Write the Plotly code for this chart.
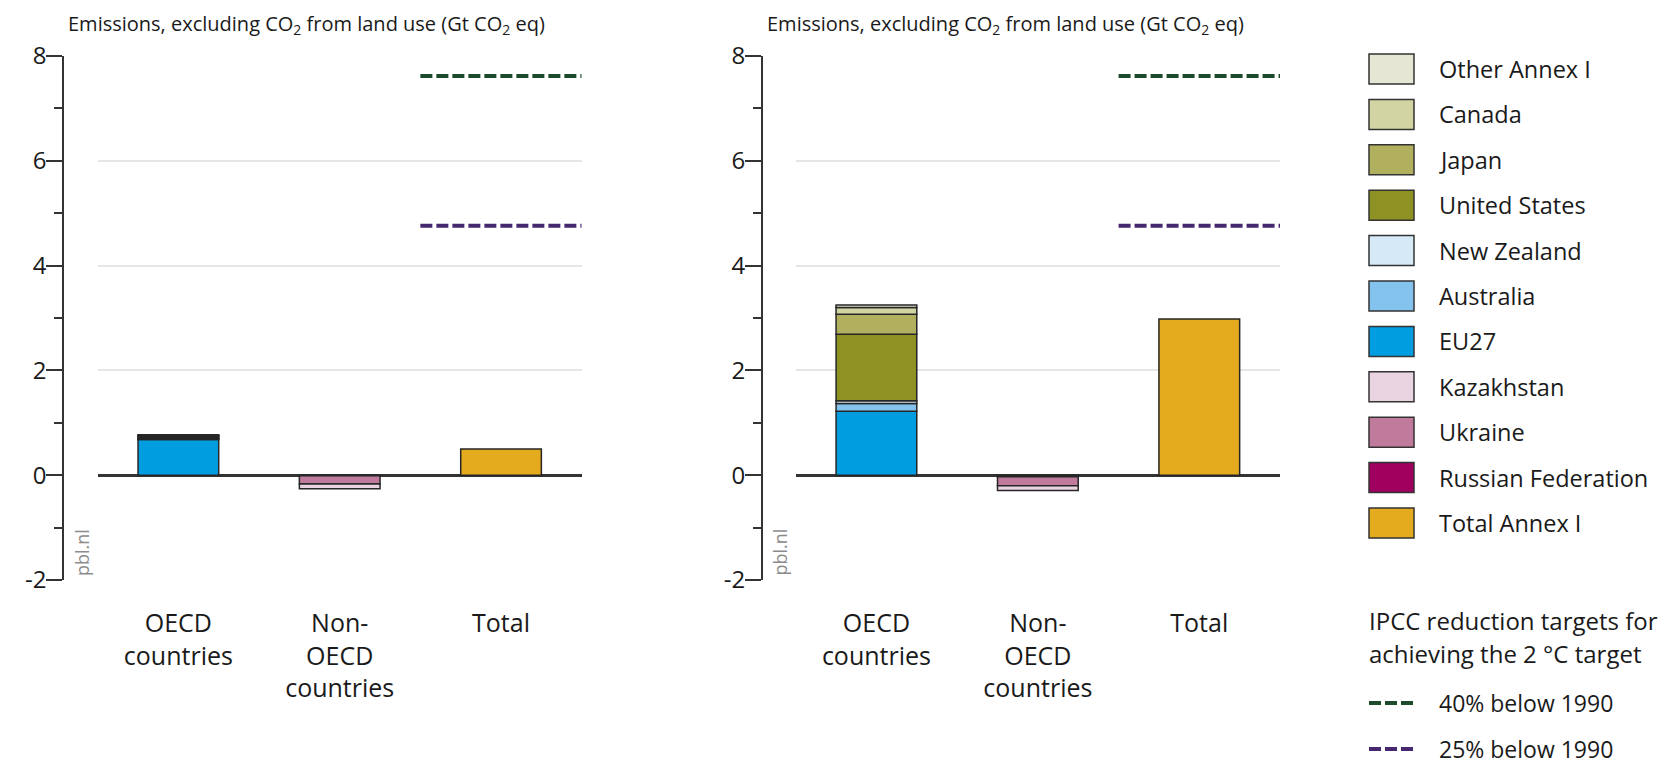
import plotly.graph_objects as go

W, H = 1667, 764
FONT = "Open Sans"

# Categories on the horizontal axis
categories = ["OECD<br>countries", "Non-<br>OECD<br>countries", "Total"]

# Stacked series (order = stacking order from the zero line outward)
series = ["Russian Federation", "Ukraine", "Kazakhstan", "EU27", "Australia",
          "New Zealand", "United States", "Japan", "Canada", "Other Annex I"]
series_colors = ["#a0005e", "#bf7a9c", "#ead4e2", "#009ee0", "#84c3ee",
                 "#d5e9f7", "#8e9222", "#b0b05e", "#d2d5a3", "#e5e6d3"]

# Left panel, Gt CO2 eq
left_oecd = [0, 0, 0, 0.68, 0.015, 0.005, 0.03, 0.02, 0.01, 0.01]
left_non_oecd = [-0.01, -0.16, -0.09, 0, 0, 0, 0, 0, 0, 0]
left_total = 0.50

# Right panel, Gt CO2 eq
right_oecd = [0, 0, 0, 1.22, 0.15, 0.05, 1.27, 0.38, 0.13, 0.05]
right_non_oecd = [-0.03, -0.17, -0.09, 0, 0, 0, 0, 0, 0, 0]
right_total = 2.98

total_name = "Total Annex I"
total_color = "#e4ab1f"

# IPCC reduction targets (Gt CO2 eq)
target_names = ["40% below 1990", "25% below 1990"]
target_values = [7.62, 4.76]
target_colors = ["#1d4a2b", "#46286e"]

y_ticks = [-2, 0, 2, 4, 6, 8]
y_title = "Emissions, excluding CO<sub>2</sub> from land use (Gt CO<sub>2</sub> eq)"


def px_x(p):
    return p / W


def px_y(p):
    return 1 - p / H


fig = go.Figure()

panels = [
    dict(xa="x", ya="y", oecd=left_oecd, non=left_non_oecd, total=left_total),
    dict(xa="x2", ya="y2", oecd=right_oecd, non=right_non_oecd, total=right_total),
]

for p in panels:
    for name, color, a, b in zip(series, series_colors, p["oecd"], p["non"]):
        fig.add_trace(go.Bar(
            x=[0, 1], y=[a if a != 0 else None, b if b != 0 else None],
            name=name, marker=dict(color=color, line=dict(color="#262626", width=1.5)),
            width=0.5, xaxis=p["xa"], yaxis=p["ya"], showlegend=False))
    fig.add_trace(go.Bar(
        x=[2], y=[p["total"]], name=total_name,
        marker=dict(color=total_color, line=dict(color="#262626", width=1.5)),
        width=0.5, xaxis=p["xa"], yaxis=p["ya"], showlegend=False))
    for tname, tval, tcol in zip(target_names, target_values, target_colors):
        fig.add_trace(go.Scatter(
            x=[1.5, 2.5], y=[tval, tval], mode="lines", name=tname,
            line=dict(color=tcol, width=4, dash="12px,4px"),
            xaxis=p["xa"], yaxis=p["ya"], showlegend=False, hoverinfo="skip"))

y_dom = [px_y(580), px_y(56)]
x_doms = [[px_x(97.7), px_x(581.7)], [px_x(795.7), px_x(1280)]]
y_pos = [px_x(63.3), px_x(762)]

xaxis_common = dict(range=[-0.5, 2.5], tickvals=[0, 1, 2], ticktext=categories,
                    showgrid=False, zeroline=False, showline=False, ticks="",
                    tickfont=dict(family=FONT, size=25, color="#1a1a1a"),
                    ticklabelstandoff=26, automargin=False, fixedrange=True)
yaxis_common = dict(range=[-2, 8], tickvals=y_ticks, ticktext=[str(v) for v in y_ticks],
                    showgrid=True, gridcolor="#e6e6e6", gridwidth=1.5,
                    zeroline=True, zerolinecolor="#333333", zerolinewidth=2.5,
                    showline=True, linecolor="#333333", linewidth=2,
                    ticks="outside", ticklen=16, tickwidth=2, tickcolor="#333333",
                    minor=dict(dtick=1, ticks="outside", ticklen=8, tickwidth=2,
                               tickcolor="#333333", showgrid=False),
                    tickfont=dict(family=FONT, size=24, color="#1a1a1a"),
                    ticklabelstandoff=-5, anchor="free", domain=y_dom,
                    automargin=False, fixedrange=True)

fig.update_layout(
    xaxis=dict(domain=x_doms[0], anchor="y", **xaxis_common),
    xaxis2=dict(domain=x_doms[1], anchor="y2", **xaxis_common),
    yaxis=dict(position=y_pos[0], **yaxis_common),
    yaxis2=dict(position=y_pos[1], **yaxis_common),
    barmode="relative",
    width=W, height=H,
    margin=dict(l=0, r=0, t=0, b=0, autoexpand=False),
    paper_bgcolor="white", plot_bgcolor="white",
    showlegend=False,
    font=dict(family=FONT, color="#1a1a1a"),
)

annotations = []
shapes = []

# Axis titles above each panel and the source tag
for ax_x in [66, 765]:
    annotations.append(dict(text=y_title, x=px_x(ax_x), y=px_y(24), xref="paper", yref="paper",
                            xanchor="left", yanchor="middle", showarrow=False,
                            font=dict(family=FONT, size=20, color="#1a1a1a")))
for tag_x in [81.5, 779]:
    annotations.append(dict(text="pbl.nl", x=px_x(tag_x), y=px_y(578), xref="paper", yref="paper",
                            xanchor="center", yanchor="bottom", textangle=-90, showarrow=False,
                            font=dict(family=FONT, size=18, color="#8c8c8c")))

# Legend: swatches listed top to bottom
legend_names = list(reversed(series)) + [total_name]
legend_colors = list(reversed(series_colors)) + [total_color]
row0, row_step = 69, 45.4
for i, (name, color) in enumerate(zip(legend_names, legend_colors)):
    cy = row0 + i * row_step
    shapes.append(dict(type="rect", xref="paper", yref="paper",
                       x0=px_x(1369), x1=px_x(1414), y0=px_y(cy + 15), y1=px_y(cy - 15),
                       fillcolor=color, line=dict(color="#333333", width=1.5)))
    annotations.append(dict(text=name, x=px_x(1437), y=px_y(cy), xref="paper", yref="paper",
                            xanchor="left", yanchor="middle", showarrow=False,
                            font=dict(family=FONT, size=23.5, color="#1a1a1a")))

for line_text, cy in [("IPCC reduction targets for", 620), ("achieving the 2 °C target", 653)]:
    annotations.append(dict(text=line_text, x=px_x(1367), y=px_y(cy), xref="paper", yref="paper",
                            xanchor="left", yanchor="middle", showarrow=False,
                            font=dict(family=FONT, size=24, color="#1a1a1a")))

for (tname, tcol), cy in zip(zip(target_names, target_colors), [703, 749]):
    shapes.append(dict(type="line", xref="paper", yref="paper",
                       x0=px_x(1369), x1=px_x(1414), y0=px_y(cy), y1=px_y(cy),
                       line=dict(color=tcol, width=4, dash="12px,4px")))
    annotations.append(dict(text=tname, x=px_x(1437), y=px_y(cy), xref="paper", yref="paper",
                            xanchor="left", yanchor="middle", showarrow=False,
                            font=dict(family=FONT, size=23, color="#1a1a1a")))

fig.update_layout(annotations=annotations, shapes=shapes)

fig.write_html("out.html", config=dict(displayModeBar=False))
